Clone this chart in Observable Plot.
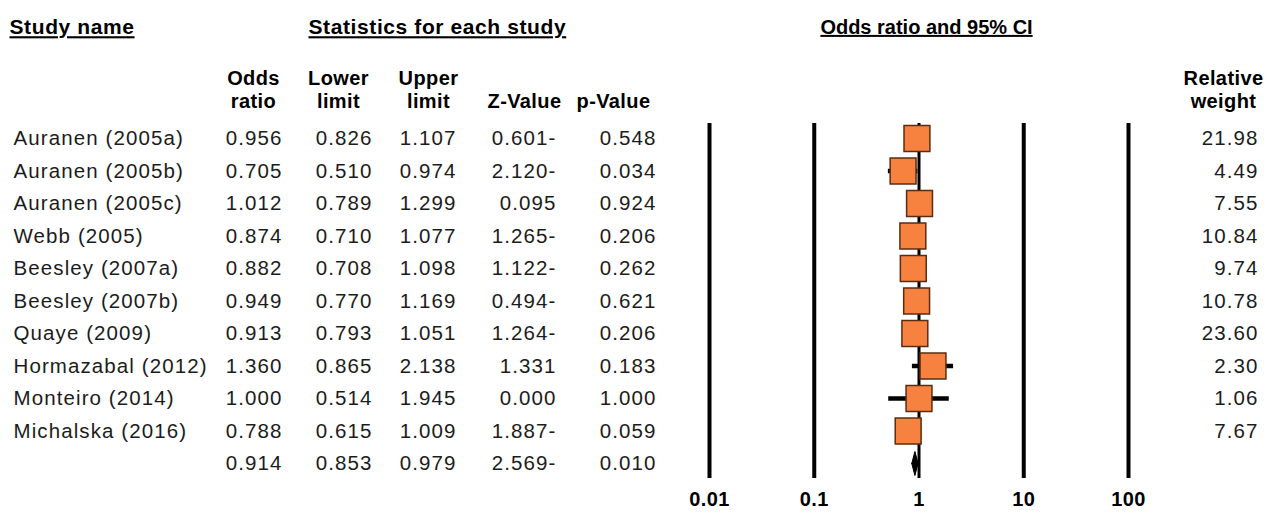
<!DOCTYPE html>
<html><head><meta charset="utf-8">
<script src="https://cdn.jsdelivr.net/npm/d3@7"></script>
<script src="https://cdn.jsdelivr.net/npm/@observablehq/plot@0.6"></script>
<style>
html,body{margin:0;padding:0;background:#fff;}
#chart svg text{letter-spacing:1.1px}
#chart svg text.hd{letter-spacing:0.4px}
#chart svg text.big{letter-spacing:0.6px}
#chart svg text.tight{letter-spacing:0px}
#chart svg text.ul{text-decoration:underline;text-underline-offset:6px;text-decoration-thickness:2px}
</style></head><body><div id="chart"></div>
<script>
// ---- data ----
const studies = ["Auranen (2005a)","Auranen (2005b)","Auranen (2005c)","Webb (2005)","Beesley (2007a)","Beesley (2007b)","Quaye (2009)","Hormazabal (2012)","Monteiro (2014)","Michalska (2016)"];
const oddsRatio = [0.956,0.705,1.012,0.874,0.882,0.949,0.913,1.360,1.000,0.788];
const lowerLimit = [0.826,0.510,0.789,0.710,0.708,0.770,0.793,0.865,0.514,0.615];
const upperLimit = [1.107,0.974,1.299,1.077,1.098,1.169,1.051,2.138,1.945,1.009];
const zValue = [-0.601,-2.120,0.095,-1.265,-1.122,-0.494,-1.264,1.331,0.000,-1.887];
const pValue = [0.548,0.034,0.924,0.206,0.262,0.621,0.206,0.183,1.000,0.059];
const relWeight = ["21.98","4.49","7.55","10.84","9.74","10.78","23.60","2.30","1.06","7.67"];
const summaryOR = 0.914, summaryLower = 0.853, summaryUpper = 0.979, summaryZ = -2.569, summaryP = 0.010;
const axisTicks = [0.01,0.1,1,10,100];
const tickLabels = ["0.01","0.1","1","10","100"];

// ---- tables ----
const rows = studies.map((s,i)=>({i,name:s,or:oddsRatio[i],lo:lowerLimit[i],hi:upperLimit[i],z:zValue[i],p:pValue[i],w:relWeight[i]}));
const nS = studies.length;
const summary = {i:nS,name:"",or:summaryOR,lo:summaryLower,hi:summaryUpper,z:summaryZ,p:summaryP,w:""};
const allRows = [...rows, summary];
const diamond = [
  {x:summaryLower,y:nS},{x:summaryOR,y:nS-0.37},{x:summaryUpper,y:nS},{x:summaryOR,y:nS+0.37},{x:summaryLower,y:nS}
];
const f3 = v=>v.toFixed(3);
const fz = v=>v<0 ? Math.abs(v).toFixed(3)+"-" : v.toFixed(3);

const W=1275,H=514,ML=709,MR=147,MT=123,MB=36;
const body = {fontSize:20.5, fill:"#1c1c1c", lineAnchor:"middle"};
const bold = {fontSize:20, fill:"#000", fontWeight:"bold", lineAnchor:"middle"};

const cols = [
  {get:d=>f3(d.or), right:282, head:"Odds\nratio", hc:253},
  {get:d=>f3(d.lo), right:372, head:"Lower\nlimit", hc:338},
  {get:d=>f3(d.hi), right:456, head:"Upper\nlimit", hc:428},
  {get:d=>fz(d.z), right:556, head:"\nZ-Value", hc:524},
  {get:d=>f3(d.p), right:656, head:"\np-Value", hc:613}
];

const marks = [
  Plot.ruleX(axisTicks.filter(t=>t!==1), {x:d=>d, stroke:"#000", strokeWidth:4}),
  Plot.ruleX(axisTicks.filter(t=>t===1), {x:d=>d, stroke:"#000", strokeWidth:3}),
  Plot.ruleY(rows, {y:"i", x1:"lo", x2:"hi", stroke:"#000", strokeWidth:4.5}),
  Plot.dot(rows, {x:"or", y:"i", symbol:"square", r:14.6, fill:"#f7813f", stroke:"#5a2c12", strokeWidth:1.5}),
  Plot.line(diamond, {x:"x", y:"y", fill:"#000", stroke:"#000", strokeWidth:1}),
  Plot.text(axisTicks, {x:d=>d, text:(d,i)=>tickLabels[i], frameAnchor:"bottom", dy:21, ...bold}),
  Plot.text(rows, {y:"i", text:"name", frameAnchor:"left", dx:13-ML, textAnchor:"start", ...body}),
  ...cols.map(c=>Plot.text(allRows, {y:"i", text:c.get, frameAnchor:"left", dx:c.right-ML, textAnchor:"end", ...body})),
  Plot.text(rows, {y:"i", text:"w", frameAnchor:"right", dx:1258-(W-MR), textAnchor:"end", ...body}),
  // headers
  ...cols.map(c=>Plot.text([c.head], {text:d=>d, frameAnchor:"top-left", dx:c.hc-ML, dy:88.5-MT, textAnchor:"middle", lineHeight:1.15, ...bold})),
  Plot.text(["Relative\nweight"], {text:d=>d, frameAnchor:"top-right", dx:1223-(W-MR), dy:88.5-MT, textAnchor:"middle", lineHeight:1.15, ...bold}),
  Plot.text(["Study name"], {text:d=>d, frameAnchor:"top-left", dx:9-ML, dy:27-MT, textAnchor:"start", ...bold, fontSize:21}),
  Plot.text(["Statistics for each study"], {text:d=>d, frameAnchor:"top-left", dx:308-ML, dy:27-MT, textAnchor:"start", ...bold, fontSize:21}),
  Plot.text(["Odds ratio and 95% CI"], {text:d=>d, frameAnchor:"top-left", dx:926-ML, dy:27-MT, textAnchor:"middle", ...bold})
];

const svg = Plot.plot({
  width:W, height:H, marginLeft:ML, marginRight:MR, marginTop:MT, marginBottom:MB,
  style:{fontFamily:"'Liberation Sans', Arial, sans-serif", background:"#fff", overflow:"visible"},
  x:{type:"log", domain:[0.01,100], axis:null},
  y:{domain:[-0.4615, nS+0.4615], reverse:true, axis:null},
  marks
});
const underlined = new Set(["Study name","Statistics for each study","Odds ratio and 95% CI"]);
svg.querySelectorAll("text").forEach(t=>{
  if (t.getAttribute("font-weight")==="bold" || t.closest("[font-weight='bold']")) t.classList.add("hd");
  if (t.textContent==="Study name" || t.textContent==="Statistics for each study") t.classList.add("big");
  if (t.textContent==="Odds ratio and 95% CI") t.classList.add("tight");
  if (underlined.has(t.textContent)) t.classList.add("ul");
});
document.getElementById("chart").appendChild(svg);
</script></body></html>
